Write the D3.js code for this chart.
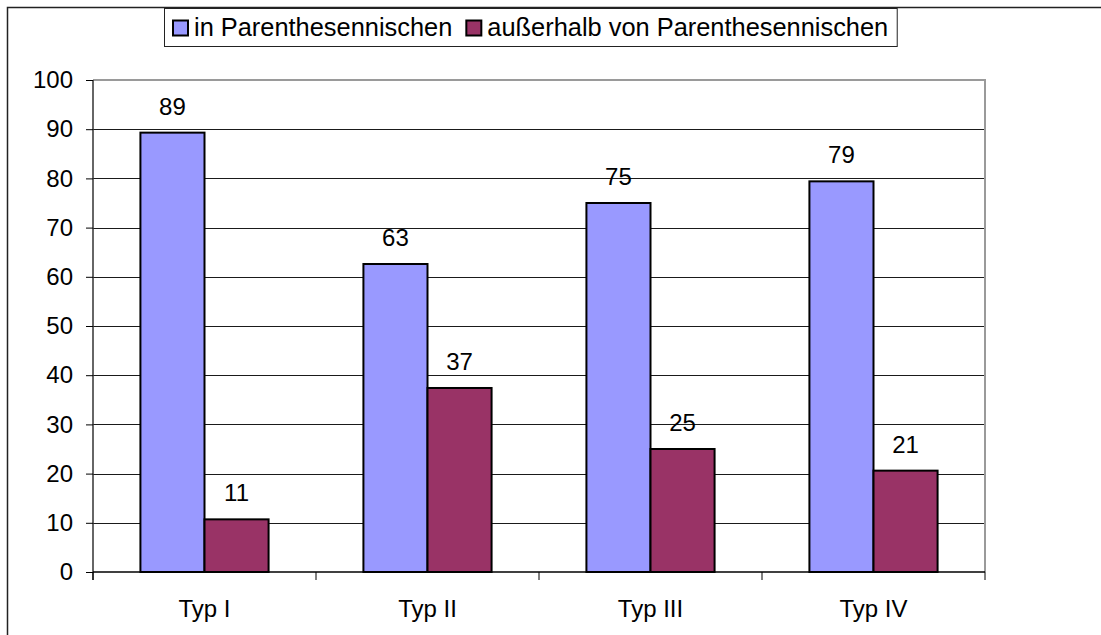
<!DOCTYPE html>
<html>
<head>
<meta charset="utf-8">
<script src="https://cdn.jsdelivr.net/npm/d3@7"></script>
<style>
    body { margin: 0; background: #fff; }
    svg text { font-family: "Liberation Sans", Arial, sans-serif; fill: #000; }
</style>
</head>
<body>
<div id="chart"></div>
<script>
// Data
const categories = ["Typ I", "Typ II", "Typ III", "Typ IV"];
const seriesNames = ["in Parenthesennischen", "außerhalb von Parenthesennischen"];
const inValues = [89.3, 62.6, 75.0, 79.4];
const outValues = [10.7, 37.4, 25.0, 20.6];
const yTicks = [0, 10, 20, 30, 40, 50, 60, 70, 80, 90, 100];
const colors = ["#9999FF", "#993366"];

const width = 1101, height = 635;
const margin = { top: 80, right: 116, bottom: 63, left: 93 };

const svg = d3.select("#chart").append("svg")
    .attr("width", width)
    .attr("height", height);

// outer frame (runs off the right / bottom edge)
svg.append("rect")
    .attr("x", 7.5).attr("y", 7.5)
    .attr("width", width + 20).attr("height", height + 20)
    .attr("fill", "#fff")
    .attr("stroke", "#222")
    .attr("stroke-width", 1.5);

const x0 = d3.scaleBand()
    .domain(categories)
    .range([margin.left, width - margin.right])
    .padding(0);

const x1 = d3.scaleBand()
    .domain([0, 1])
    .range([0, x0.bandwidth()])
    .paddingInner(0)
    .paddingOuter(0.74);

const y = d3.scaleLinear()
    .domain([0, 100])
    .range([height - margin.bottom, margin.top]);

const plotRight = width - margin.right;

// gridlines
svg.append("g")
    .selectAll("line")
    .data(yTicks.filter(d => d > 0 && d < 100))
    .enter().append("line")
    .attr("x1", margin.left).attr("x2", plotRight)
    .attr("y1", d => Math.round(y(d)) + 0.5).attr("y2", d => Math.round(y(d)) + 0.5)
    .attr("stroke", "#1a1a1a")
    .attr("stroke-width", 1);

// plot frame top and right in gray
svg.append("path")
    .attr("d", `M${margin.left},${y(100)}H${plotRight}V${y(0)}`)
    .attr("fill", "none")
    .attr("stroke", "#9a9a9a")
    .attr("stroke-width", 2);

// bars
const data = categories.map((c, i) => ({ cat: c, vals: [inValues[i], outValues[i]] }));

const groups = svg.append("g").selectAll("g")
    .data(data)
    .enter().append("g")
    .attr("transform", d => `translate(${x0(d.cat)},0)`);

groups.selectAll("rect")
    .data(d => d.vals.map((v, k) => ({ k: k, v: v })))
    .enter().append("rect")
    .attr("x", d => x1(d.k))
    .attr("y", d => y(d.v))
    .attr("width", x1.bandwidth())
    .attr("height", d => y(0) - y(d.v))
    .attr("fill", d => colors[d.k])
    .attr("stroke", "#000")
    .attr("stroke-width", 2);

groups.selectAll("text")
    .data(d => d.vals.map((v, k) => ({ k: k, v: v })))
    .enter().append("text")
    .attr("x", d => x1(d.k) + x1.bandwidth() / 2)
    .attr("y", d => y(d.v) - 18)
    .attr("text-anchor", "middle")
    .style("font-size", "24px")
    .text(d => Math.round(d.v));

// y axis
const yAxis = d3.axisLeft(y).tickValues(yTicks).tickSize(7).tickPadding(13);
const yG = svg.append("g")
    .attr("transform", `translate(${margin.left},0)`)
    .call(yAxis);
yG.select(".domain").attr("stroke", "#333").attr("stroke-width", 1.5)
    .attr("d", `M0,${y(100)}V${y(0) + 8}`);
yG.selectAll(".tick line").attr("stroke", "#000");
yG.selectAll(".tick text")
    .style("font-size", "24px")
    .style("font-family", "'Liberation Sans', Arial, sans-serif")
    .attr("fill", "#000");

// x axis
const xG = svg.append("g")
    .attr("transform", `translate(0,${y(0)})`);
xG.append("line")
    .attr("x1", margin.left).attr("x2", plotRight)
    .attr("stroke", "#000").attr("stroke-width", 1.5);
const bounds = categories.map(c => x0(c)).concat([plotRight]);
xG.selectAll(".xtick")
    .data(bounds)
    .enter().append("line")
    .attr("class", "xtick")
    .attr("x1", d => d).attr("x2", d => d)
    .attr("y1", 0).attr("y2", 8)
    .attr("stroke", "#000");
xG.selectAll(".xlabel")
    .data(categories)
    .enter().append("text")
    .attr("class", "xlabel")
    .attr("x", d => x0(d) + x0.bandwidth() / 2)
    .attr("y", 45)
    .attr("text-anchor", "middle")
    .style("font-size", "24px")
    .text(d => d);

// legend
const legend = svg.append("g");
const legendBox = legend.append("rect")
    .attr("x", 164.5).attr("y", 8.5)
    .attr("height", 38)
    .attr("fill", "#fff")
    .attr("stroke", "#222")
    .attr("stroke-width", 1);

let lx = 173;
seriesNames.forEach((name, i) => {
    legend.append("rect")
        .attr("x", lx).attr("y", 20.5)
        .attr("width", 15).attr("height", 15)
        .attr("fill", colors[i])
        .attr("stroke", "#000")
        .attr("stroke-width", 2);
    const t = legend.append("text")
        .attr("x", lx + 21)
        .attr("y", 36)
        .style("font-size", "25.4px")
        .text(name);
    lx += 21 + t.node().getComputedTextLength() + 14;
});
legendBox.attr("width", lx - 164.5 - 5);
</script>
</body>
</html>
